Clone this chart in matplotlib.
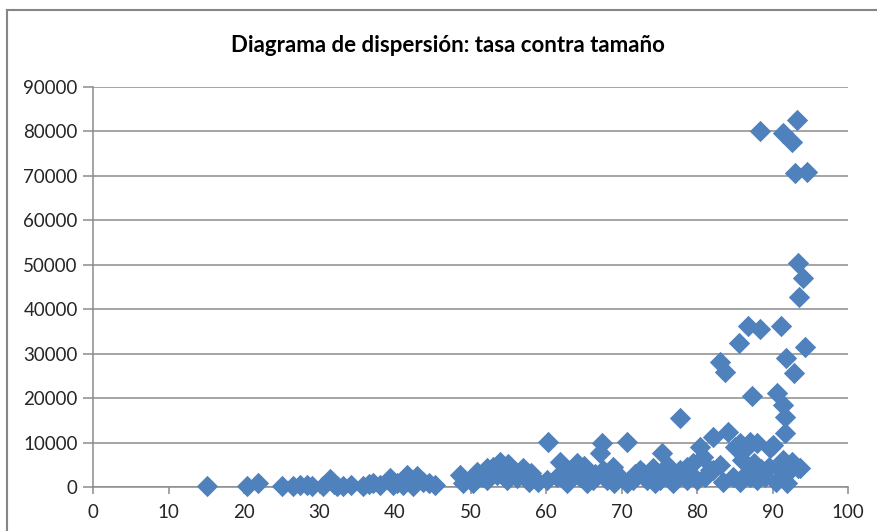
import matplotlib

matplotlib.use("Agg")
import matplotlib.pyplot as plt
from matplotlib.lines import Line2D

# tasa (x) vs tamaño (y)
tasa = [
    15.1, 20.4, 21.9, 25.0, 26.5, 27.4, 28.3, 29.0, 30.5, 31.4, 31.9, 32.3,
    33.1, 34.2, 35.8, 36.5, 37.1, 38.0, 39.3, 39.7, 40.2, 41.1, 41.6, 42.4,
    42.9, 43.7, 44.5, 45.3,
    48.6, 49.0, 50.3, 50.9, 52.2, 52.2, 53.0, 53.9, 54.8, 55.6, 56.2, 57.0,
    58.0, 59.0, 60.1, 60.3, 61.4, 61.9, 62.8, 64.1, 64.5, 65.4, 66.2, 67.2,
    67.4, 67.5, 68.1, 68.9, 69.8, 70.7, 70.7, 71.5, 72.5, 72.8, 73.4, 73.8,
    74.2, 75.1, 75.4, 75.5, 76.8, 76.8, 77.7, 77.7, 78.7, 78.7, 79.5,
    51.5, 53.5, 55.0, 56.5, 57.8, 63.0, 65.0, 66.5, 69.0, 71.8, 74.5, 76.2,
    79.0,
    80.0, 80.4, 80.8, 81.7, 82.1, 82.1, 83.0, 83.0, 83.7, 84.1, 84.8, 85.0,
    85.6, 85.7, 85.7, 86.0, 86.6, 86.6, 86.8, 87.0, 87.0, 87.3, 87.5, 87.9,
    88.3, 88.3, 88.5, 89.0, 89.7, 90.1, 90.6, 91.0, 91.1, 91.4, 91.4, 91.4,
    91.4, 91.7, 91.7, 91.8, 91.9, 92.6, 92.6, 92.7, 92.8, 93.0, 93.2, 93.4,
    93.4, 93.5, 93.6, 94.0, 94.3, 94.6, 81.0, 83.5, 88.0, 89.5, 90.5,
]
tamano = [
    300, 300, 900, 200, 300, 400, 500, 300, 300, 1800, 700, 200,
    300, 400, 300, 600, 900, 400, 2100, 400, 900, 500, 2700, 300,
    2500, 1100, 800, 500,
    2700, 900, 900, 3400, 4300, 1600, 4500, 5600, 1600, 3800, 2000, 4300,
    3200, 1200, 1600, 10100, 2300, 5600, 900, 5400, 2300, 900, 1600, 7600,
    9900, 3800, 1600, 4500, 2300, 10100, 900, 1600, 3800, 3200, 1600, 2300,
    4300, 1600, 7600, 3800, 900, 2300, 3800, 15500, 1600, 4500, 5400,
    2300, 2800, 5200, 3400, 1200, 3600, 4800, 3000, 1000, 3000, 900, 4800,
    2800,
    1600, 9000, 6800, 3800, 11300, 3800, 5000, 28100, 25800, 12400, 2300, 9000,
    32400, 1100, 9900, 6000, 3200, 9000, 36200, 10100, 2300, 20500, 5500, 9900,
    35600, 80000, 4000, 2300, 8800, 9500, 21100, 3800, 36200, 18500, 79700, 6100,
    2300, 15800, 12200, 29000, 900, 77600, 5600, 4500, 25600, 70700, 82500, 50400,
    4300, 42800, 4300, 47000, 31500, 70900, 2200, 1200, 1500, 4500, 1200,
]

x_ticks = list(range(0, 101, 10))
y_ticks = list(range(0, 90001, 10000))

TITLE = "Diagrama de dispersión: tasa contra tamaño"
BLUE = "#4F81BD"
GRID = "#8C8C8C"

plt.rcParams["font.family"] = ["Lato", "DejaVu Sans"]

fig = plt.figure(figsize=(8.77, 5.31), dpi=100)
ax = fig.add_axes([93 / 877, 1 - 487 / 531, 755 / 877, 400 / 531])

ax.scatter(tasa, tamano, marker="D", s=118, color=BLUE, linewidths=0,
           zorder=3, clip_on=False)

ax.set_xlim(0, 100)
ax.set_ylim(0, 90000)
ax.set_xticks(x_ticks)
ax.set_yticks(y_ticks)
ax.yaxis.grid(True, color=GRID, lw=1.1)
ax.set_axisbelow(True)

for side in ("top", "right"):
    ax.spines[side].set_visible(False)
for side in ("left", "bottom"):
    ax.spines[side].set_color(GRID)
    ax.spines[side].set_linewidth(1.1)

ax.tick_params(axis="y", length=7, width=1.1, color=GRID, pad=4,
               labelsize=13.5, labelcolor="#262626")
ax.tick_params(axis="x", length=5, width=1.1, color=GRID, pad=7,
               labelsize=13.5, labelcolor="#262626")

fig.text(448 / 877, 1 - 45 / 531, TITLE, ha="center", va="center",
         fontsize=16, fontweight="bold", color="black")

# Excel-style chart frame (only top and left edges are visible)
fig.add_artist(Line2D([7 / 877, 1], [1 - 10 / 531] * 2,
                      transform=fig.transFigure, color="#868686", lw=1.5))
fig.add_artist(Line2D([7 / 877] * 2, [0, 1 - 10 / 531],
                      transform=fig.transFigure, color="#868686", lw=1.5))

fig.savefig("out.png", dpi=100)
